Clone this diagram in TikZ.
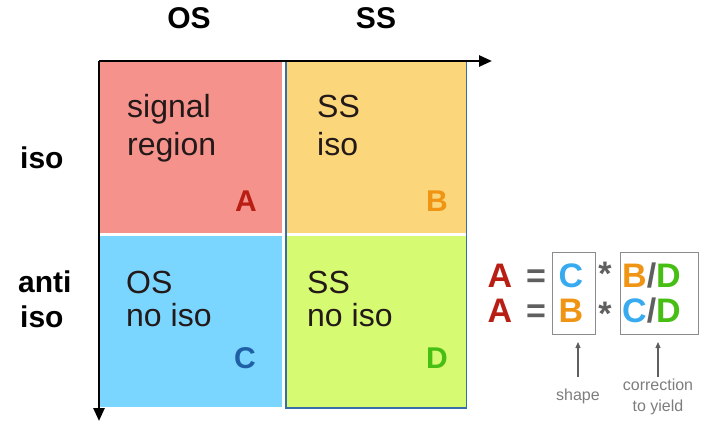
\documentclass[tikz,border=0pt]{standalone}
\usepackage{fontspec}
\setmainfont{Liberation Sans}
\usetikzlibrary{arrows.meta}
\definecolor{fillA}{RGB}{245,146,140}
\definecolor{fillB}{RGB}{252,214,122}
\definecolor{fillC}{RGB}{122,214,255}
\definecolor{fillD}{RGB}{214,250,114}
\definecolor{labA}{RGB}{185,30,20}
\definecolor{labB}{RGB}{240,148,20}
\definecolor{labC}{RGB}{30,95,165}
\definecolor{labCeq}{RGB}{55,170,240}
\definecolor{labD}{RGB}{70,190,20}
\definecolor{frameblue}{RGB}{55,110,170}
\definecolor{eqgrey}{RGB}{95,95,95}
\definecolor{notegrey}{RGB}{125,125,125}
\definecolor{boxgrey}{RGB}{140,140,140}
\definecolor{qtext}{RGB}{35,25,25}
\begin{document}
\begin{tikzpicture}[x=1pt,y=-1pt,
  quad/.style={draw=none,inner sep=0pt,minimum width=#1},
  qtxt/.style={inner sep=0pt,anchor=base west,text=qtext,font=\fontsize{32}{32}\selectfont},
  qlab/.style={inner sep=0pt,anchor=base east,font=\fontsize{30}{30}\selectfont\bfseries},
  hdr/.style={inner sep=0pt,font=\fontsize{30}{30}\selectfont\bfseries},
  eq/.style={inner sep=0pt,anchor=base,font=\fontsize{34}{34}\selectfont\bfseries},
  eqbox/.style={draw=boxgrey,line width=1pt,inner sep=0pt},
  note/.style={inner sep=0pt,anchor=base,text=notegrey,font=\fontsize{16}{16}\selectfont},
  axis/.style={line width=2.6pt,-{Triangle[length=13pt,width=11pt]}},
  notearrow/.style={draw=eqgrey,line width=1.1pt,-{Triangle[length=6pt,width=5pt]}}
]
\useasboundingbox (0,0) rectangle (710,423);
% quadrants
\node[quad=181.5pt,minimum height=170.5pt,fill=fillA] (qA) at (190.75,147.25) {};
\node[quad=180pt,minimum height=170.5pt,fill=fillB] (qB) at (376,147.25) {};
\node[quad=181.5pt,minimum height=171.5pt,fill=fillC] (qC) at (190.75,321.25) {};
\node[quad=180pt,minimum height=171.5pt,fill=fillD] (qD) at (376,321.25) {};
% blue frame around SS column
\node[draw=frameblue,line width=1.8pt,minimum width=180.5pt,minimum height=346.5pt,inner sep=0pt] (ssframe) at (376.25,234.75) {};
% axes
\coordinate (O) at (99,61);
\coordinate (xend) at (492,61);
\coordinate (yend) at (99,421);
\draw[axis] (O) -- (xend);
\draw[axis] (O) -- (yend);
% headers
\node[hdr,anchor=base] (hOS) at (189,28) {OS};
\node[hdr,anchor=base] (hSS) at (376,28) {SS};
\node[hdr,anchor=base west] (hiso) at (20,168) {iso};
\node[hdr,anchor=base west] (hanti) at (18,292) {anti};
\node[hdr,anchor=base west] (hiso2) at (20,327) {iso};
% quadrant texts
\node[qtxt] (tA1) at (127,117) {signal};
\node[qtxt] (tA2) at (127,155) {region};
\node[qtxt] (tB1) at (317,117) {SS};
\node[qtxt] (tB2) at (317,155) {iso};
\node[qtxt] (tC1) at (126,293) {OS};
\node[qtxt] (tC2) at (126,326) {no iso};
\node[qtxt] (tD1) at (307,293) {SS};
\node[qtxt] (tD2) at (307,326) {no iso};
% quadrant letters
\node[qlab,text=labA] (lA) at (257,211) {A};
\node[qlab,text=labB] (lB) at (448,211) {B};
\node[qlab,text=labC] (lC) at (256,368) {C};
\node[qlab,text=labD] (lD) at (448,368) {D};
% equation boxes
\node[eqbox,minimum width=43pt,minimum height=82pt] (box1) at (573.5,293) {};
\node[eqbox,minimum width=78pt,minimum height=82pt] (box2) at (659,293) {};
% row 1
\node[eq,text=labA] (e1A) at (500,287) {A};
\node[eq,text=eqgrey] (e1eq) at (536,287) {=};
\node[eq,text=labCeq] (e1C) at (571,287) {C};
\node[eq,text=eqgrey] (e1s) at (605,285) {*};
\node[eq,anchor=base west] (e1r) at (622,287) {\textcolor{labB}{B}\textcolor{eqgrey}{/}\textcolor{labD}{D}};
% row 2
\node[eq,text=labA] (e2A) at (500,322) {A};
\node[eq,text=eqgrey] (e2eq) at (536,322) {=};
\node[eq,text=labB] (e2B) at (571,322) {B};
\node[eq,text=eqgrey] (e2s) at (605,325) {*};
\node[eq,anchor=base west] (e2r) at (622,322) {\textcolor{labCeq}{C}\textcolor{eqgrey}{/}\textcolor{labD}{D}};
% notes
\node[note] (nshape) at (578,400) {shape};
\node[note] (ncorr) at (658,390) {correction};
\node[note] (nyield) at (658,411) {to yield};
\coordinate (a1s) at (578,377);
\coordinate (a1e) at (578,342);
\coordinate (a2s) at (658,377);
\coordinate (a2e) at (658,342);
\draw[notearrow] (a1s) -- (a1e);
\draw[notearrow] (a2s) -- (a2e);
\end{tikzpicture}
\end{document}
